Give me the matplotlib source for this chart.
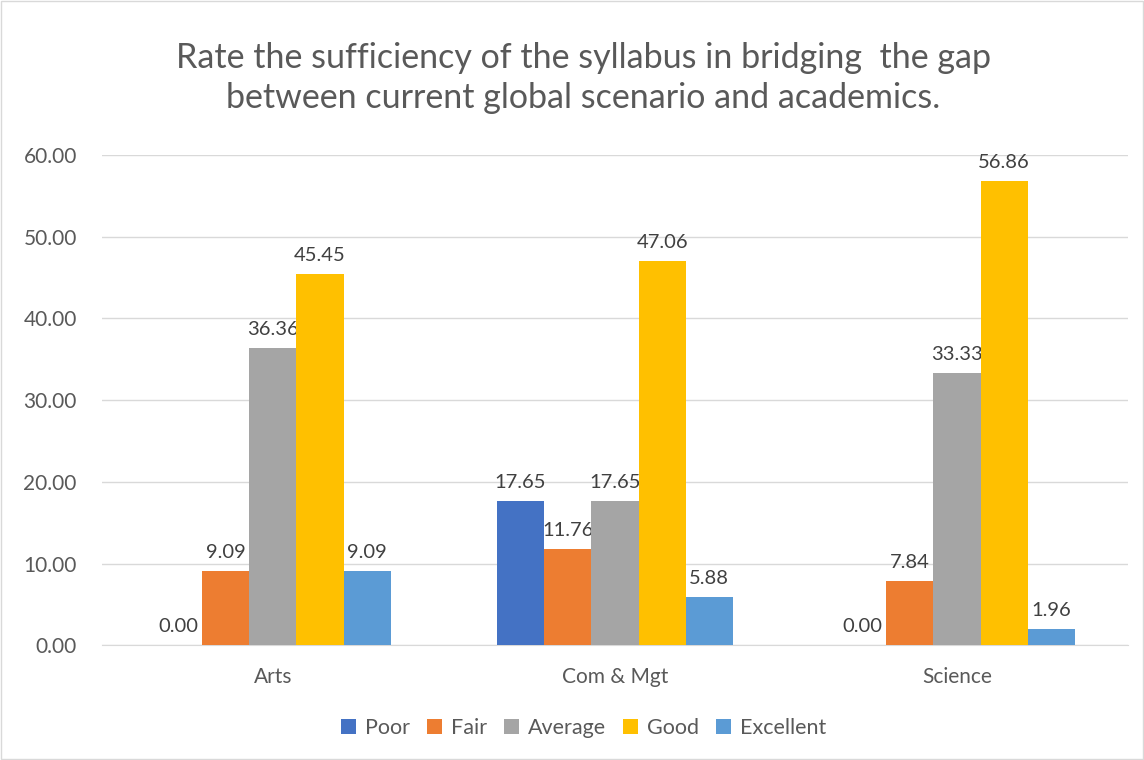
import numpy as np
import matplotlib.pyplot as plt

plt.rcParams['font.family'] = ['Lato', 'DejaVu Sans']

categories = ['Arts', 'Com & Mgt', 'Science']
series = ['Poor', 'Fair', 'Average', 'Good', 'Excellent']
poor = [0.00, 17.65, 0.00]
fair = [9.09, 11.76, 7.84]
average = [36.36, 17.65, 33.33]
good = [45.45, 47.06, 56.86]
excellent = [9.09, 5.88, 1.96]
colors = ['#4472C4', '#ED7D31', '#A5A5A5', '#FFC000', '#5B9BD5']

values = [poor, fair, average, good, excellent]

fig = plt.figure(figsize=(11.44, 7.6), dpi=100)
ax = fig.add_axes([0.089, 0.151, 0.897, 0.645])

x = np.arange(len(categories))
w = 0.138
for i, (name, vals) in enumerate(zip(series, values)):
    pos = x + (i - 2) * w
    bars = ax.bar(pos, vals, w, color=colors[i], label=name, zorder=3)
    for b, v in zip(bars, vals):
        ax.text(b.get_x() + b.get_width() / 2, v + 1.2, '%.2f' % v,
                ha='center', va='bottom', fontsize=14.5, color='#404040')

ax.set_xlim(-0.5, 2.5)
ax.set_ylim(0, 60)
ax.set_yticks(np.arange(0, 61, 10))
ax.set_yticklabels(['%.2f' % t for t in np.arange(0, 61, 10)])
ax.set_xticks(x)
ax.set_xticklabels(categories)
ax.tick_params(axis='both', length=0, labelsize=15, colors='#595959')
ax.tick_params(axis='x', pad=16)
ax.tick_params(axis='y', pad=18)
ax.yaxis.grid(True, color='#D9D9D9', linewidth=1, zorder=0)
for s in ['top', 'right', 'left']:
    ax.spines[s].set_visible(False)
ax.spines['bottom'].set_color('#D9D9D9')

fig.text(0.51, 0.897, 'Rate the sufficiency of the syllabus in bridging  the gap\nbetween current global scenario and academics.',
         ha='center', va='center', fontsize=24.5, color='#595959', linespacing=1.3)

fig.legend(loc='center', bbox_to_anchor=(0.51, 0.042), ncol=5, frameon=False,
           fontsize=15.5, handlelength=0.7, handleheight=0.7, columnspacing=0.8,
           handletextpad=0.4, labelcolor='#595959')

fig.patches.append(plt.Rectangle((0.001, 0.001), 0.998, 0.998, transform=fig.transFigure,
                                 fill=False, edgecolor='#D9D9D9', linewidth=1))

fig.savefig('out.png', dpi=100)
